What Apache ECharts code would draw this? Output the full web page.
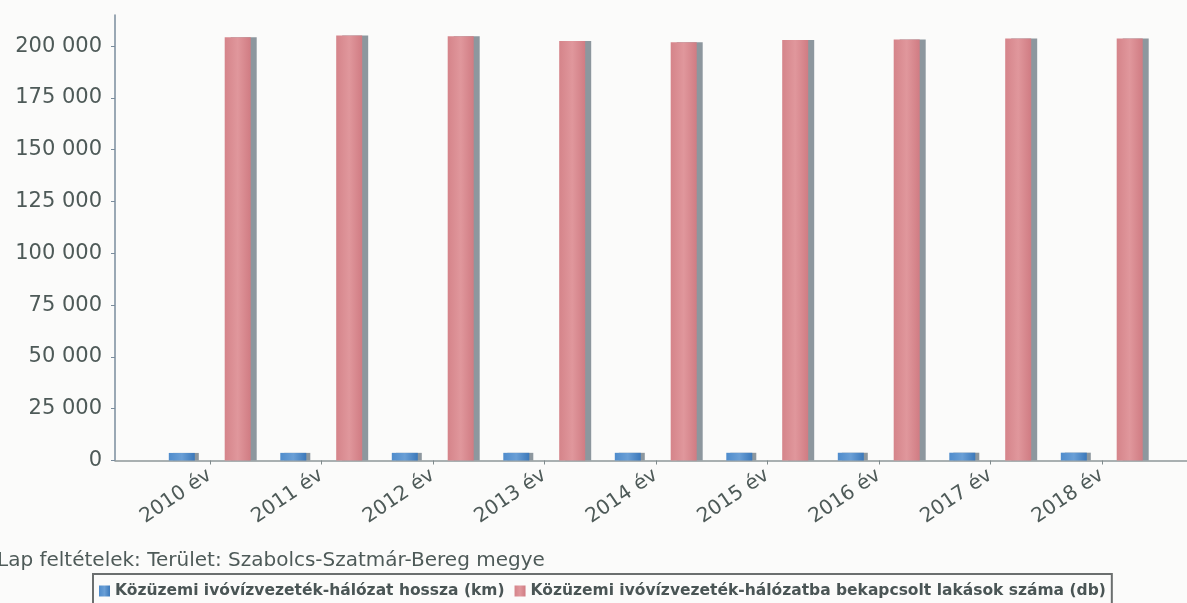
<!DOCTYPE html>
<html>
<head>
<meta charset="utf-8">
<title>Közüzemi ivóvízvezeték-hálózat</title>
<script src="https://cdn.jsdelivr.net/npm/echarts@6/dist/echarts.min.js"></script>
<style>
  html, body { margin: 0; padding: 0; background: #fbfbfa; }
  #chart { width: 1187px; height: 603px; }
</style>
</head>
<body>
<div id="chart"></div>
<script>
// évek (x tengely)
const years = ['2010 év', '2011 év', '2012 év', '2013 év', '2014 év', '2015 év', '2016 év', '2017 év', '2018 év'];
// hálózat hossza (km)
const networkKm = [3650, 3680, 3690, 3700, 3710, 3720, 3740, 3760, 3780];
// bekapcsolt lakások száma (db)
const dwellings = [204300, 205150, 204700, 202400, 201900, 202900, 203200, 203600, 203700];
// y tengely feliratai
const yTicks = [0, 25000, 50000, 75000, 100000, 125000, 150000, 175000, 200000];

const seriesNames = [
  'Közüzemi ivóvízvezeték-hálózat hossza (km)',
  'Közüzemi ivóvízvezeték-hálózatba bekapcsolt lakások száma (db)'
];

const textColor = '#4e5a58';
const font = 'DejaVu Sans';

function fmt(v) {
  return String(v).replace(/\B(?=(\d{3})+(?!\d))/g, ' ');
}

const chart = echarts.init(document.getElementById('chart'));

chart.setOption({
  backgroundColor: '#fbfbfa',
  animation: false,
  title: {
    text: 'Lap feltételek: Terület: Szabolcs-Szatmár-Bereg megye',
    left: -3,
    top: 551,
    padding: 0,
    textStyle: { color: textColor, fontFamily: font, fontSize: 20, fontWeight: 'normal' }
  },
  legend: {
    left: 93,
    top: 574,
    padding: [9, 6, 10, 6],
    borderColor: '#6b6f6f',
    borderWidth: 2,
    itemWidth: 11,
    itemHeight: 11,
    itemGap: 10,
    icon: 'rect',
    textStyle: { color: '#4a5555', fontFamily: font, fontSize: 15.5, fontWeight: 'bold' },
    data: seriesNames
  },
  grid: [
    { left: 154, right: 29.5, top: 15, bottom: 142.5 },
    // csak a hosszabb x tengelyvonalhoz
    { left: 115, right: 0, top: 15, bottom: 142.5 }
  ],
  xAxis: [
    {
      type: 'category',
      gridIndex: 0,
      data: years,
      axisLine: { show: false },
      axisTick: { show: true, alignWithLabel: true, length: 4, lineStyle: { color: '#7f8a8c' } },
      axisLabel: {
        interval: 0,
        rotate: 34,
        margin: 13,
        color: textColor,
        fontFamily: font,
        fontSize: 20
      }
    },
    {
      type: 'value',
      gridIndex: 1,
      min: 0,
      max: 1,
      axisLine: { show: true, lineStyle: { color: '#8e9899', width: 1.5 } },
      axisTick: { show: false },
      axisLabel: { show: false },
      splitLine: { show: false }
    }
  ],
  yAxis: [
    {
      type: 'value',
      gridIndex: 0,
      min: 0,
      max: 215000,
      interval: 25000,
      offset: 39,
      axisLine: { show: true, lineStyle: { color: '#7a8c9c', width: 1.5 } },
      axisTick: { show: true, length: 4, customValues: yTicks, lineStyle: { color: '#7a8c9c' } },
      axisLabel: {
        customValues: yTicks,
        margin: 13,
        color: textColor,
        fontFamily: font,
        fontSize: 21,
        formatter: fmt
      },
      splitLine: { show: false }
    },
    {
      type: 'value',
      gridIndex: 1,
      show: false
    }
  ],
  series: [
    {
      name: seriesNames[0],
      type: 'bar',
      data: networkKm,
      barWidth: 26,
      barGap: '115%',
      itemStyle: {
        color: new echarts.graphic.LinearGradient(0, 0, 1, 0, [
          { offset: 0, color: '#4f8ccc' },
          { offset: 0.5, color: '#6a9fd6' },
          { offset: 1, color: '#3b78ba' }
        ]),
        shadowColor: '#8d979e',
        shadowOffsetX: 4,
        shadowOffsetY: 0,
        shadowBlur: 0
      }
    },
    {
      name: seriesNames[1],
      type: 'bar',
      data: dwellings,
      barWidth: 26,
      itemStyle: {
        color: new echarts.graphic.LinearGradient(0, 0, 1, 0, [
          { offset: 0, color: '#d5848a' },
          { offset: 0.5, color: '#e0979c' },
          { offset: 1, color: '#d07c83' }
        ]),
        shadowColor: '#8d979e',
        shadowOffsetX: 6,
        shadowOffsetY: 0,
        shadowBlur: 0
      }
    }
  ]
});
</script>
</body>
</html>
